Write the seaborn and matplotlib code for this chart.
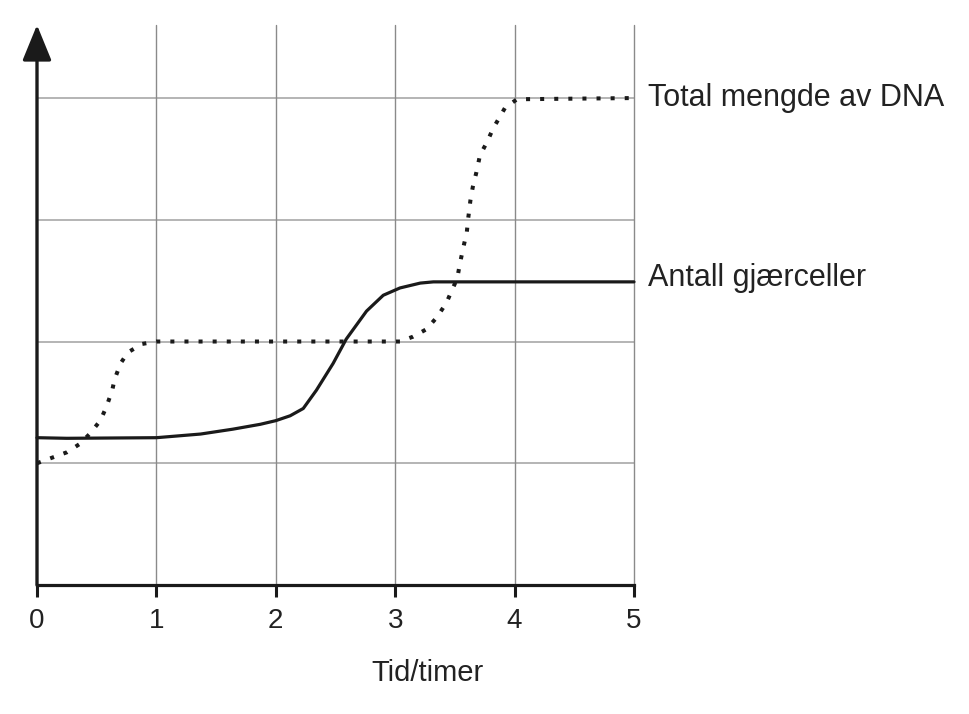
import numpy as np
import pandas as pd
import seaborn as sns
import matplotlib
matplotlib.use("Agg")
import matplotlib.pyplot as plt

# Data (time in hours, relative amount)
dna_t = [0.00, 0.11, 0.25, 0.36, 0.44, 0.53, 0.58, 0.63, 0.65, 0.70, 0.76, 0.88, 1.00,
         2.00, 3.04, 3.15, 3.26, 3.35, 3.43, 3.47, 3.52, 3.54, 3.57, 3.60, 3.61, 3.63,
         3.65, 3.68, 3.71, 3.77, 3.82, 3.92, 4.02, 5.00]
dna_v = [1.00, 1.04, 1.09, 1.16, 1.24, 1.35, 1.46, 1.60, 1.69, 1.82, 1.91, 1.98, 2.00,
         2.00, 2.00, 2.04, 2.10, 2.20, 2.32, 2.41, 2.52, 2.63, 2.77, 2.90, 3.00, 3.16,
         3.27, 3.39, 3.53, 3.64, 3.75, 3.92, 3.99, 4.00]

cell_t = [0.00, 0.25, 1.00, 1.37, 1.64, 1.87, 2.00, 2.12, 2.23, 2.34, 2.48, 2.59,
          2.76, 2.90, 3.04, 3.21, 3.32, 5.00]
cell_v = [1.21, 1.205, 1.21, 1.24, 1.28, 1.32, 1.35, 1.39, 1.45, 1.60, 1.82, 2.02,
          2.25, 2.38, 2.44, 2.48, 2.49, 2.49]

x_ticks = [0, 1, 2, 3, 4, 5]
y_grid = [1, 2, 3, 4]
series_labels = ["Total mengde av DNA", "Antall gjærceller"]
x_label = "Tid/timer"

sns.set_theme(style="white")
plt.rcParams['font.family'] = ['Liberation Sans', 'DejaVu Sans']

fig = plt.figure(figsize=(9.69, 7.14), dpi=100)
ax = fig.add_axes([37/969, 1-585/714, (634-37)/969, (585-25)/714])

ymax = 4.6
ax.set_xlim(0, 5)
ax.set_ylim(0, ymax)

# grid
for g in y_grid:
    ax.plot([0, 5], [g, g], color='#a0a0a0', lw=1.1, zorder=1)
for g in x_ticks[1:]:
    ax.plot([g, g], [0, ymax], color='#8a8a8a', lw=1.0, zorder=1, clip_on=False)

dna = pd.DataFrame({"t": dna_t, "v": dna_v})
cells = pd.DataFrame({"t": cell_t, "v": cell_v})
sns.lineplot(data=dna, x="t", y="v", ax=ax, color='#1a1a1a', lw=2.9,
             estimator=None, sort=False, linestyle=(0, (1, 2.5)), zorder=3, clip_on=False)
sns.lineplot(data=cells, x="t", y="v", ax=ax, color='#1a1a1a', lw=2.3,
             estimator=None, sort=False, zorder=3, clip_on=False)

for sp in ['top', 'right']:
    ax.spines[sp].set_visible(False)
ax.spines['left'].set_visible(False)
ax.spines['bottom'].set_linewidth(2.3)
ax.spines['bottom'].set_color('#1a1a1a')
ax.spines['bottom'].set_zorder(4)

# y axis with arrow
ax.annotate('', xy=(0, ymax), xytext=(0, 0), xycoords='data',
            arrowprops=dict(arrowstyle='-|>,head_length=1.1,head_width=0.45',
                            lw=2.4, color='#1a1a1a', mutation_scale=20,
                            shrinkA=0, shrinkB=0), annotation_clip=False, zorder=5)

ax.set_xticks(x_ticks)
ax.set_xticklabels([str(t) for t in x_ticks], fontsize=20, color='#222222')
ax.set_yticks([])
ax.tick_params(axis='x', direction='out', length=8.6, width=2.2, color='#1a1a1a', pad=8,
               bottom=True)
ax.set_xlabel(x_label, fontsize=21, color='#222222')
ax.xaxis.set_label_coords((427-37)/597, (585-673)/560)
ax.xaxis.label.set_va('center')
ax.set_ylabel('')

ax.text(5.12, dna_v[-1], series_labels[0], fontsize=22, color='#222222', va='center', ha='left')
ax.text(5.12, cell_v[-1] + 0.03, series_labels[1], fontsize=22, color='#222222', va='center', ha='left')

fig.savefig("out.png", dpi=100, facecolor='white')
